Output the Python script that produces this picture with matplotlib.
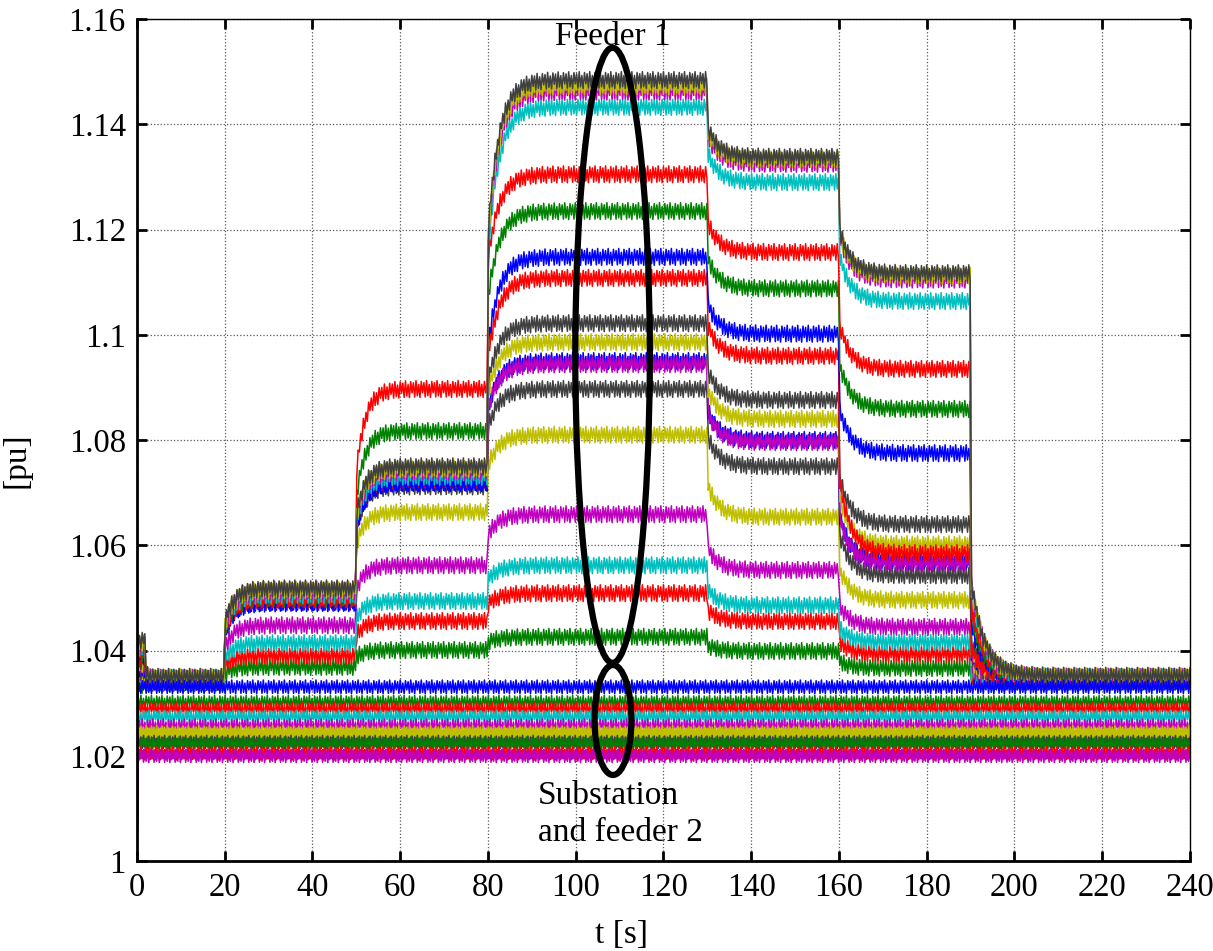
import numpy as np
import matplotlib
matplotlib.use("Agg")
import matplotlib.pyplot as plt
from matplotlib.patches import Ellipse

plt.rcParams['font.family'] = ['Liberation Serif', 'DejaVu Serif']

# segment start times [s] (last segment runs to 240 s)
seg_start = [0, 2, 20, 50, 80, 130, 160, 190]
t_end = 240

# feeder 1 nodes: colour and voltage level in each segment [pu]
feeder1_colors = ['k', 'y', 'm', 'c', 'r', 'g', 'b', 'r', 'k',
                  'y', 'm', 'b', 'k', 'y', 'm', 'c', 'r', 'g']
feeder1_levels = [
    [1.0420, 1.0350, 1.0518, 1.0750, 1.1484, 1.1338, 1.1117, 1.0352],
    [1.0415, 1.0349, 1.0515, 1.0745, 1.1472, 1.1333, 1.1112, 1.0351],
    [1.0410, 1.0348, 1.0512, 1.0740, 1.1462, 1.1325, 1.1105, 1.0350],
    [1.0405, 1.0347, 1.0505, 1.0730, 1.1433, 1.1290, 1.1064, 1.0349],
    [1.0400, 1.0346, 1.0498, 1.0897, 1.1305, 1.1157, 1.0935, 1.0348],
    [1.0395, 1.0345, 1.0500, 1.0817, 1.1235, 1.1088, 1.0859, 1.0347],
    [1.0390, 1.0344, 1.0490, 1.0720, 1.1148, 1.1002, 1.0775, 1.0346],
    [1.0385, 1.0344, 1.0496, 1.0725, 1.1108, 1.0960, 1.0585, 1.0346],
    [1.0380, 1.0343, 1.0515, 1.0735, 1.1022, 1.0876, 1.0640, 1.0345],
    [1.0375, 1.0343, 1.0512, 1.0738, 1.0986, 1.0840, 1.0602, 1.0345],
    [1.0370, 1.0342, 1.0508, 1.0728, 1.0944, 1.0796, 1.0566, 1.0344],
    [1.0365, 1.0342, 1.0492, 1.0718, 1.0950, 1.0800, 1.0570, 1.0344],
    [1.0360, 1.0341, 1.0510, 1.0712, 1.0897, 1.0750, 1.0543, 1.0343],
    [1.0355, 1.0341, 1.0505, 1.0663, 1.0810, 1.0654, 1.0496, 1.0343],
    [1.0350, 1.0340, 1.0448, 1.0562, 1.0659, 1.0553, 1.0445, 1.0342],
    [1.0345, 1.0340, 1.0414, 1.0494, 1.0562, 1.0486, 1.0416, 1.0342],
    [1.0340, 1.0339, 1.0390, 1.0456, 1.0509, 1.0456, 1.0393, 1.0341],
    [1.0335, 1.0339, 1.0369, 1.0401, 1.0426, 1.0399, 1.0367, 1.0341],
]

# substation and feeder 2 nodes (constant level)
sub_colors = ['b', 'g', 'r', 'c', 'm', 'y', 'y', 'k', 'g', 'r', 'm']
sub_levels = [1.0331, 1.0302, 1.0289, 1.0274, 1.0257, 1.0245,
              1.0238, 1.0226, 1.0223, 1.0205, 1.0200]

# one period of the ripple seen on every trace (relative)
ripple = [1.0, -0.8, 0.55, -1.0, 0.9, -0.45, 0.75, -0.95]

# transition style at each segment boundary (after the first)
jump_frac = [0.9, 0.6, 0.6, 0.6, 0.6, 0.6, 0.75]
tau = [0.6, 2.0, 2.0, 2.5, 2.5, 2.5, 3.0]

matlab = {'b': (0, 0, 1), 'g': (0, 0.5, 0), 'r': (1, 0, 0), 'c': (0, 0.75, 0.75),
          'm': (0.75, 0, 0.75), 'y': (0.75, 0.75, 0), 'k': (0.25, 0.25, 0.25)}

dt = 0.3
t = np.arange(0, t_end + dt, dt)
rip = np.array(ripple)


def trace(levels, amp, shift):
    y = np.full_like(t, levels[0])
    for i in range(1, len(levels)):
        tb = seg_start[i]
        d = levels[i] - levels[i - 1]
        m = t >= tb
        y[m] += d * (1 - (1 - jump_frac[i - 1]) * np.exp(-(t[m] - tb) / tau[i - 1]))
    r = np.resize(np.roll(rip, shift), len(t))
    y = y + amp * r
    y[0] = 1.0
    return y


fig = plt.figure(figsize=(12.13, 9.51), dpi=100)
ax = fig.add_axes([0.1129, 0.0946, 0.8681, 0.8854])

for k in range(len(feeder1_levels) - 1, -1, -1):
    ax.plot(t, trace(feeder1_levels[k], 0.0016, k % 8),
            color=matlab[feeder1_colors[k]], lw=1.1)

for k in range(len(sub_levels)):
    ax.plot(t, trace([sub_levels[k]] * len(seg_start), 0.0013, (k * 3) % 8),
            color=matlab[sub_colors[k]], lw=1.1)

# annotation ellipses
ax.add_patch(Ellipse((108.4, 1.0961), 17.0, 0.1169, fill=False, ec='k', lw=4.5, zorder=5))
ax.add_patch(Ellipse((108.5, 1.0268), 8.4, 0.0209, fill=False, ec='k', lw=4.5, zorder=5))
ax.text(108.4, 1.1566, 'Feeder 1', ha='center', va='center', fontsize=24, zorder=6)
ax.text(91.4, 1.0125, 'Substation', ha='left', va='center', fontsize=24)
ax.text(91.4, 1.0053, 'and feeder 2', ha='left', va='center', fontsize=24)

ax.set_xlim(0, 240)
ax.set_ylim(1.0, 1.16)
ax.set_xticks(np.arange(0, 241, 20))
yt = [1.0, 1.02, 1.04, 1.06, 1.08, 1.1, 1.12, 1.14, 1.16]
ax.set_yticks(yt)
ax.set_yticklabels(['%g' % v for v in yt])
ax.grid(True, linestyle=':', color='0.35', lw=0.9)
ax.tick_params(direction='in', length=7, width=2, top=True, right=True,
               labelsize=23.5, pad=8)
for s in ax.spines.values():
    s.set_linewidth(1.0)
ax.spines['left'].set_linewidth(2)
ax.spines['bottom'].set_linewidth(2)

ax.set_xlabel('t [s]', fontsize=24)
ax.xaxis.set_label_coords(0.46, -0.07)
ax.set_ylabel('[pu]', fontsize=24)
ax.yaxis.set_label_coords(-0.1, 0.476)

fig.savefig('out.png', dpi=100)
